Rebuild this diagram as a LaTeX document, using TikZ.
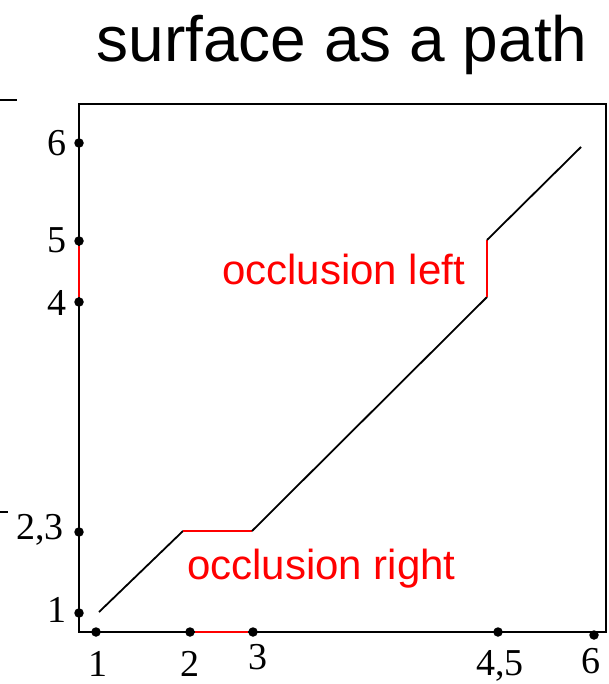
\documentclass[tikz,border=0pt]{standalone}
\usepackage{fontspec}
\setmainfont{Liberation Serif}
\newfontfamily\arialf{Liberation Sans}
\begin{document}
\begin{tikzpicture}[x=1pt,y=-1pt,
  dot/.style={circle,fill=black,inner sep=0pt,minimum size=9.5pt},
  axnum/.style={font=\fontsize{38}{42}\selectfont,inner sep=0pt},
  occl/.style={text=red,font=\arialf\fontsize{42}{48}\selectfont,inner sep=0pt},
  seg/.style={line width=1.8pt},
  redseg/.style={line width=1.8pt,red}]
\useasboundingbox (0,0) rectangle (608,684);
% title
\node[font=\arialf\fontsize{64}{72}\selectfont,inner sep=0pt,anchor=base] (title) at (342,62) {surface as a path};
% short marks at left edge
\draw[line width=1.8pt] (0,100) -- (17,100);
\draw[line width=1.8pt] (0,512) -- (8,512);
% box
\draw[line width=2.2pt] (79,104) rectangle (606,632);
% left axis dots
\node[dot] (y6) at (79,143) {};
\node[dot] (y5) at (79,241) {};
\node[dot] (y4) at (79,302) {};
\node[dot] (y23) at (79,532) {};
\node[dot] (y1) at (79,613) {};
\draw[redseg] (y5) -- (y4);
% bottom axis dots
\node[dot] (x1) at (96,632) {};
\node[dot] (x2) at (190,632) {};
\node[dot] (x3) at (253,632) {};
\node[dot] (x45) at (498,632) {};
\node[dot] (x6) at (594,635) {};
\draw[redseg] (x2) -- (x3);
% left labels
\node[axnum,anchor=east] (l6) at (67,143) {6};
\node[axnum,anchor=east] (l5) at (67,240) {5};
\node[axnum,anchor=east] (l4) at (67,303) {4};
\node[axnum,anchor=east] (l23) at (64,530) {2,3};
\node[axnum,anchor=east] (l1) at (67,610) {1};
% bottom labels
\node[axnum] (b1) at (98,664) {1};
\node[axnum] (b2) at (190,664) {2};
\node[axnum] (b3) at (258,657) {3};
\node[axnum] (b45) at (500,666) {4,5};
\node[axnum] (b6) at (591,661) {6};
% path
\coordinate (p0) at (99,612);
\coordinate (p1) at (183,531);
\coordinate (p2) at (252,531);
\coordinate (p3) at (487,297);
\coordinate (p4) at (487,240);
\coordinate (p5) at (581,147);
\draw[seg] (p0) -- (p1);
\draw[redseg] (p1) -- (p2);
\draw[seg] (p2) -- (p3);
\draw[redseg] (p3) -- (p4);
\draw[seg] (p4) -- (p5);
% occlusion labels
\node[occl,anchor=base west] (ol) at (222,284) {occlusion left};
\node[occl,anchor=base west] (or) at (187,579) {occlusion right};
\end{tikzpicture}
\end{document}
